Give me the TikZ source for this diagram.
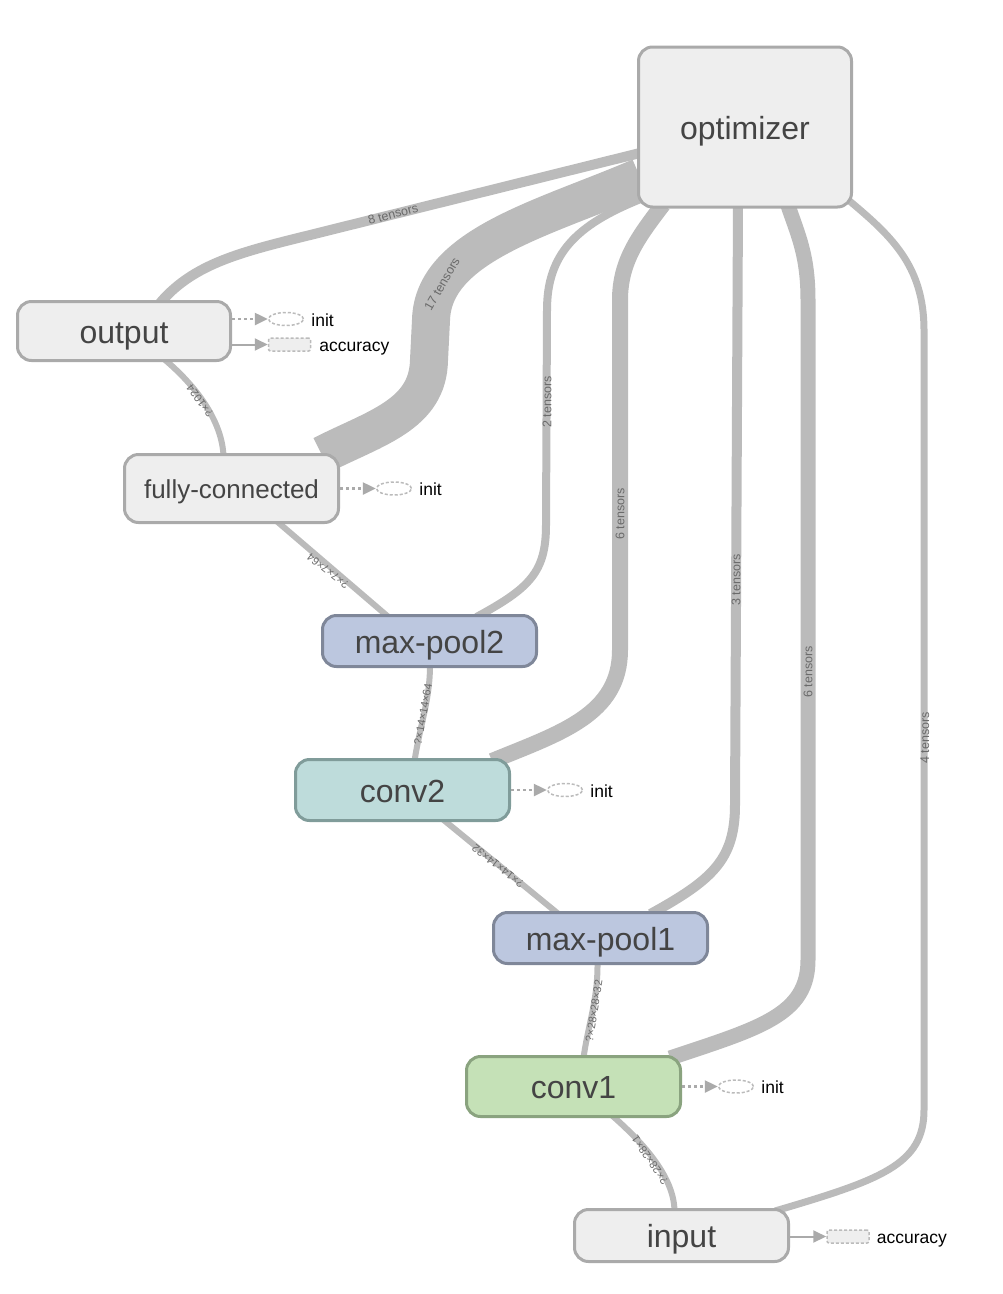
\documentclass[tikz,border=0pt]{standalone}
\usepackage{fontspec}
\setmainfont{Liberation Sans}
\usetikzlibrary{shapes.geometric,arrows.meta,backgrounds,calc}
\definecolor{edgegray}{HTML}{BBBBBB}
\definecolor{elabelgray}{HTML}{6A6A6A}
\definecolor{greyfill}{HTML}{EEEEEE}
\definecolor{greydraw}{HTML}{AAAAAA}
\definecolor{poolfill}{HTML}{BCC7DF}
\definecolor{pooldraw}{HTML}{7F8799}
\definecolor{convtfill}{HTML}{BEDCDB}
\definecolor{convtdraw}{HTML}{809C9A}
\definecolor{convofill}{HTML}{C5E1B7}
\definecolor{convodraw}{HTML}{8AA37F}
\definecolor{nodetext}{HTML}{444444}
\definecolor{annotgray}{HTML}{AAAAAA}
\definecolor{annotdash}{HTML}{BBBBBB}
\begin{document}
\begin{tikzpicture}[x=1pt,y=-1pt,
  opnode/.style={rectangle, rounded corners=14pt, line width=3pt, inner sep=0pt,
    minimum width=214pt, text=nodetext, font=\fontsize{32}{36}\selectfont,
    text height=27pt, text depth=3pt},
  greynode/.style={opnode, fill=greyfill, draw=greydraw},
  poolnode/.style={opnode, fill=poolfill, draw=pooldraw},
  convtnode/.style={opnode, fill=convtfill, draw=convtdraw},
  convonode/.style={opnode, fill=convofill, draw=convodraw},
  flow/.style={draw=edgegray, line cap=butt},
  elabel/.style={text=elabelgray, inner sep=0pt, font=\fontsize{12.5}{13}\selectfont},
  dlabel/.style={text=elabelgray, inner sep=0pt, font=\fontsize{11}{12}\selectfont},
  annotd/.style={draw=annotgray, line width=2.5pt, dash pattern=on 3pt off 3pt,
    -{Triangle[length=13pt,width=12pt]}},
  annots/.style={draw=annotgray, line width=2pt, -{Triangle[length=13pt,width=12pt]}},
  initell/.style={ellipse, draw=annotdash, line width=1.5pt, dash pattern=on 3pt off 2pt,
    minimum width=35pt, minimum height=13pt, inner sep=0pt},
  accrect/.style={rectangle, rounded corners=2pt, draw=annotdash, fill=greyfill,
    line width=1.5pt, dash pattern=on 3pt off 2pt,
    minimum width=42pt, minimum height=13pt, inner sep=0pt},
  annottext/.style={anchor=west, inner sep=0pt, font=\fontsize{17.5}{20}\selectfont,
    text height=14pt, text depth=0pt}
]
\useasboundingbox (0,0) rectangle (1002,1294);

% operation nodes
\node[greynode, minimum height=160pt, minimum width=213pt] (optimizer) at (745,127) {optimizer};
\node[greynode, minimum height=59pt, minimum width=213pt] (output) at (124,331) {output};
\node[greynode, minimum height=68pt, font=\fontsize{26}{30}\selectfont, text height=22pt, text depth=2.5pt] (fc) at (231.5,488.5) {fully-connected};
\node[poolnode, minimum height=51pt] (mpb) at (429.5,641) {max-pool2};
\node[convtnode, minimum height=61pt] (convb) at (402.5,790) {conv2};
\node[poolnode, minimum height=51pt] (mpa) at (600.5,938) {max-pool1};
\node[convonode, minimum height=60pt] (conva) at (573.5,1086.5) {conv1};
\node[greynode, minimum height=52pt] (input) at (681.5,1235.5) {input};

\begin{pgfonlayer}{background}
% optimizer edges
\draw[flow, line width=10pt] ($(output.north)+(36,3)$) .. controls (190,268) and (230,255) .. (290,240)
   -- ($(optimizer.west)+(3,26)$);
\draw[flow, line width=38pt] ($(fc.north east)+(-18,2)$) .. controls (375,428) and (428,415) .. (429,360)
   -- (431,320) .. controls (433,245) and (545,218) .. ($(optimizer.west)+(3,50)$);
\draw[flow, line width=8pt] ($(mpb.north)+(47,3)$) .. controls (530,588) and (546,572) .. (546,525)
   -- (547,310) .. controls (547,255) and (575,225) .. ($(optimizer.south west)+(5,-10)$);
\draw[flow, line width=16pt] ($(convb.north east)+(-19,3)$) .. controls (560,733) and (620,715) .. (620,650)
   -- (620,300) .. controls (620,260) and (640,235) .. ($(optimizer.south west)+(26,-4)$);
\draw[flow, line width=10pt] ($(mpa.north)+(50,3)$) .. controls (712,880) and (735,860) .. (735,805)
   -- ($(optimizer.south)+(-7,-3)$);
\draw[flow, line width=15pt] ($(conva.north east)+(-12,3)$) .. controls (760,1028) and (808,1015) .. (808,960)
   -- (808,300) .. controls (808,255) and (798,235) .. ($(optimizer.south)+(43,-3)$);
\draw[flow, line width=7pt] ($(input.north east)+(-15,3)$) .. controls (880,1180) and (924,1165) .. (924,1110)
   -- (924,330) .. controls (924,265) and (890,235) .. ($(optimizer.south east)+(-4,-8)$);
% data edges
\draw[flow, line width=6pt] ($(fc.north)+(-8,3)$) .. controls (222,420) and (195,385) .. ($(output.south)+(40,-3)$);
\draw[flow, line width=6pt] ($(mpb.north)+(-41,3)$) -- ($(fc.south)+(45,-3)$);
\draw[flow, line width=6pt] ($(convb.north)+(12,3)$) .. controls (420,725) and (430,700) .. ($(mpb.south)+(0.5,-3)$);
\draw[flow, line width=6pt] ($(mpa.north)+(-42,3)$) -- ($(convb.south)+(40,-3)$);
\draw[flow, line width=6pt] ($(conva.north)+(10,3)$) .. controls (588,1025) and (598,1000) .. ($(mpa.south)+(-3,-3)$);
\draw[flow, line width=6pt] ($(input.north)+(-7,3)$) .. controls (674,1175) and (640,1140) .. ($(conva.south)+(38,-3)$);
\end{pgfonlayer}

% edge labels
\node[elabel, rotate=15] (l8) at (393,214) {8 tensors};
\node[elabel, rotate=60] (l17) at (442,284) {17 tensors};
\node[elabel, rotate=90] (l2) at (547,402) {2 tensors};
\node[elabel, rotate=90] (l6b) at (620,514) {6 tensors};
\node[elabel, rotate=90] (l3) at (736,580) {3 tensors};
\node[elabel, rotate=90] (l6a) at (808,672) {6 tensors};
\node[elabel, rotate=90] (l4) at (925,738) {4 tensors};
\node[dlabel, rotate=127] (d1) at (200,401) {?×1024};
\node[dlabel, rotate=142] (d2) at (328,571) {?×7×7×64};
\node[dlabel, rotate=80] (d3) at (423,714) {?×14×14×64};
\node[dlabel, rotate=142] (d4) at (498,866) {?×14×14×32};
\node[dlabel, rotate=81] (d5) at (594,1011) {?×28×28×32};
\node[dlabel, rotate=124] (d6) at (650,1160) {?×28×28×1};

% side annotations
\node[initell] (oinit) at (286,319) {};
\node[annottext] (oinitt) at ($(oinit.east)+(7,0)$) {init};
\draw[annotd] (output.east |- oinit) -- (oinit.west);
\node[accrect] (oacc) at (289.5,344.5) {};
\node[annottext] (oacct) at ($(oacc.east)+(8,0)$) {accuracy};
\draw[annots] (output.east |- oacc) -- (oacc.west);

\node[initell] (finit) at (394,488.5) {};
\node[annottext] (finitt) at ($(finit.east)+(7,0)$) {init};
\draw[annotd] (fc.east |- finit) -- (finit.west);

\node[initell] (cbinit) at (565,790) {};
\node[annottext] (cbinitt) at ($(cbinit.east)+(7,0)$) {init};
\draw[annotd] (convb.east |- cbinit) -- (cbinit.west);

\node[initell] (cainit) at (736,1086.5) {};
\node[annottext] (cainitt) at ($(cainit.east)+(7,0)$) {init};
\draw[annotd] (conva.east |- cainit) -- (cainit.west);

\node[accrect] (iacc) at (848,1236.5) {};
\node[annottext] (iacct) at ($(iacc.east)+(7,0)$) {accuracy};
\draw[annots] (input.east |- iacc) -- (iacc.west);
\end{tikzpicture}
\end{document}
